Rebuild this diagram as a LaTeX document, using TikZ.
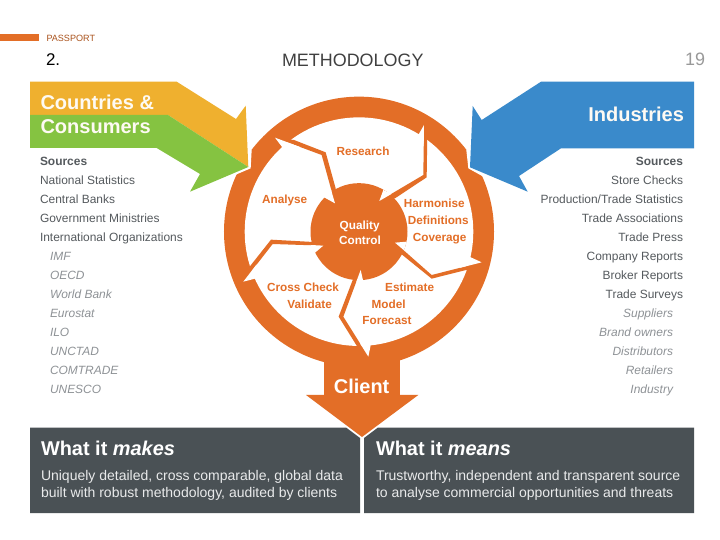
\documentclass[tikz,border=0pt]{standalone}
\usepackage{fontspec}
\setmainfont{Liberation Sans}
\definecolor{orng}{HTML}{E36E27}
\definecolor{yel}{HTML}{EFB02F}
\definecolor{grn}{HTML}{85C341}
\definecolor{blu}{HTML}{3A8ACB}
\definecolor{slate}{HTML}{4A5155}
\definecolor{txtd}{HTML}{555A5E}
\definecolor{txtl}{HTML}{8E9296}
\tikzset{
  lbl/.style={inner sep=0pt,outer sep=0pt},
  lstbox/.style={lbl,text height=10.6bp,text depth=2.5bp},
  listl/.style={lstbox,anchor=west,font=\fontsize{12}{14}\selectfont,text=txtd},
  listr/.style={lstbox,anchor=east,font=\fontsize{12}{14}\selectfont,text=txtd},
  listli/.style={listl,font=\fontsize{12}{14}\selectfont\itshape,text=txtl},
  listri/.style={listr,font=\fontsize{12}{14}\selectfont\itshape,text=txtl},
  head/.style={lbl,text height=18.5bp,text depth=4bp,font=\fontsize{20.1}{22}\selectfont\bfseries,text=white!94!yel},
  cyc/.style={lstbox,font=\fontsize{11.8}{14}\selectfont\bfseries,text=orng},
  body/.style={lbl,text height=12bp,text depth=3bp,anchor=west,font=\fontsize{14.05}{16}\selectfont,text=white!88!slate},
  pan/.style={lbl,text height=18.5bp,text depth=4bp,anchor=west,font=\fontsize{20}{22}\selectfont\bfseries,text=white},
  wh/.style={fill=white,draw=none},
  or/.style={fill=orng,draw=none}
}
\begin{document}
\begin{tikzpicture}[x=1bp,y=-1bp]
\useasboundingbox (0,0) rectangle (720,540);
\fill[white] (0,0) rectangle (720,540);
% header
\fill[orng] (0,34) rectangle (39,41);
\node[lbl,anchor=west,font=\fontsize{9.1}{10}\selectfont,text=orng!75!black] (pp) at (46.5,38) {PASSPORT};
\node[lbl,anchor=west,font=\fontsize{17}{18}\selectfont] (num) at (46,60) {2.};
\node[lbl,anchor=west,font=\fontsize{18}{20}\selectfont,text=black!75] (meth) at (282,60) {METHODOLOGY};
\node[lbl,anchor=east,font=\fontsize{18}{20}\selectfont,text=black!40] (pg) at (705,59) {19};
% cycle
\begin{scope}[shift={(220bp,-90bp)},x=0.33333bp,y=-0.33333bp]
  \fill[orng] (417,425) circle[radius=135bp];
  \fill[or] (313,800) rectangle (540,915);
  \fill[or] (258,915) -- (595,915) -- (426,1041) -- cycle;
  \fill[white] (417,425) circle[radius=114.3bp];
  \fill[orng] (417,425) circle[radius=48.5bp];
  % bands
  \fill[or] (165,143) -- (305,195) -- (345,340) -- (347,295) -- (317,187) -- (222,150) -- cycle;
  \fill[or] (612,105) -- (610,255) -- (478,333) -- (525,325) -- (620,262) -- (622,130) -- cycle;
  \fill[or] (785,517) -- (635,555) -- (525,458) -- (535,485) -- (635,566) -- (750,537) -- cycle;
  \fill[or] (445,800) -- (370,680) -- (422,540) -- (400,565) -- (356,680) -- (415,775) -- cycle;
  \fill[or] (70,575) -- (158,462) -- (310,467) -- (280,456) -- (153,449) -- (85,535) -- cycle;
  % white tips
  \fill[wh] (165,143) -- (187,172) -- (240,171) -- cycle;
  \fill[wh] (345,340) -- (333,299) -- (305,318) -- cycle;
  \fill[wh] (612,105) -- (595,135) -- (611,170) -- cycle;
  \fill[wh] (478,333) -- (490,300) -- (514,312) -- cycle;
  \fill[wh] (785,517) -- (748,500) -- (720,533.5) -- cycle;
  \fill[wh] (525,458) -- (560,455) -- (552,481) -- cycle;
  \fill[wh] (445,800) -- (452,766) -- (420,760) -- cycle;
  \fill[wh] (422,540) -- (430,575) -- (409,575) -- cycle;
  \fill[wh] (70,575) -- (105,566) -- (110,523) -- cycle;
  \fill[wh] (310,467) -- (272,465) -- (285,488) -- cycle;
  % halos round the source arrows
  \fill[wh] (95,180) -- (92,235) -- (45,255) -- (-15,255) -- (-15,180) -- cycle;
  \fill[wh] (739,180) -- (745,235) -- (790,260) -- (850,260) -- (850,180) -- cycle;
  % labels
  \node[cyc] (research) at (429,183) {Research};
  \node[cyc] (analyse) at (194,327) {Analyse};
  \node[cyc] (harm) at (643,340) {Harmonise};
  \node[cyc] (defs) at (655,390) {Definitions};
  \node[cyc] (cov) at (659,441) {Coverage};
  \node[cyc] (est) at (569,591) {Estimate};
  \node[cyc] (model) at (506,642) {Model};
  \node[cyc] (fore) at (501,692) {Forecast};
  \node[cyc] (cross) at (249,591) {Cross Check};
  \node[cyc] (valid) at (269,642) {Validate};
  \node[cyc,text=white] (qual) at (419,407) {Quality};
  \node[cyc,text=white] (ctrl) at (420,450) {Control};
  \node[lbl,font=\fontsize{20}{22}\selectfont\bfseries,text=white] (client) at (425,888) {Client};
\end{scope}
% source arrows
\fill[yel] (30,81.7) -- (176.7,81.7) -- (236,119) -- (245.7,105.7) -- (248.3,167) -- (168,115) -- (30,115) -- cycle;
\fill[grn] (30,115) -- (168,115) -- (248.3,167) -- (190,191.7) -- (200,174) -- (156.7,148) -- (30,148) -- cycle;
\fill[blu] (541,81.7) -- (694,81.7) -- (694,148.3) -- (561,148.3) -- (519,176) -- (527.7,191.7) -- (470,167.3) -- (472.7,106) -- (481.7,120) -- cycle;
\node[head,anchor=west] (cc) at (40.5,102) {Countries \&};
\node[head,anchor=west] (cons) at (40.5,126) {Consumers};
\node[head,anchor=east] (ind) at (684,114) {Industries};
% left list
\node[listl,font=\fontsize{12}{14}\selectfont\bfseries] (l0) at (40,161) {Sources};
\node[listl] (l1) at (40,180) {National Statistics};
\node[listl] (l2) at (40,199) {Central Banks};
\node[listl] (l3) at (40,218) {Government Ministries};
\node[listl] (l4) at (40,237) {International Organizations};
\node[listli] (l5) at (50,256) {IMF};
\node[listli] (l6) at (50,275) {OECD};
\node[listli] (l7) at (50,294) {World Bank};
\node[listli] (l8) at (50,313) {Eurostat};
\node[listli] (l9) at (50,332) {ILO};
\node[listli] (l10) at (50,351) {UNCTAD};
\node[listli] (l11) at (50,370) {COMTRADE};
\node[listli] (l12) at (50,389) {UNESCO};
% right list
\node[listr,font=\fontsize{12}{14}\selectfont\bfseries] (r0) at (683,161) {Sources};
\node[listr] (r1) at (683,180) {Store Checks};
\node[listr] (r2) at (683,199) {Production/Trade Statistics};
\node[listr] (r3) at (683,218) {Trade Associations};
\node[listr] (r4) at (683,237) {Trade Press};
\node[listr] (r5) at (683,256) {Company Reports};
\node[listr] (r6) at (683,275) {Broker Reports};
\node[listr] (r7) at (683,294) {Trade Surveys};
\node[listri] (r8) at (673,313) {Suppliers};
\node[listri] (r9) at (673,332) {Brand owners};
\node[listri] (r10) at (673,351) {Distributors};
\node[listri] (r11) at (673,370) {Retailers};
\node[listri] (r12) at (673,389) {Industry};
% panels
\fill[slate] (30,427.5) -- (346,427.5) -- (360,438) -- (360,513) -- (30,513) -- cycle;
\fill[slate] (364,438) -- (378,427.5) -- (694,427.5) -- (694,513) -- (364,513) -- cycle;
\node[pan] (p1) at (41,448.5) {What it \textit{makes}};
\node[pan] (p2) at (376,448.5) {What it \textit{means}};
\node[body] (b1) at (41,476) {Uniquely detailed, cross comparable, global data};
\node[body] (b2) at (41,493) {built with robust methodology, audited by clients};
\node[body] (b3) at (376,476) {Trustworthy, independent and transparent source};
\node[body] (b4) at (376,493) {to analyse commercial opportunities and threats};
\end{tikzpicture}
\end{document}
